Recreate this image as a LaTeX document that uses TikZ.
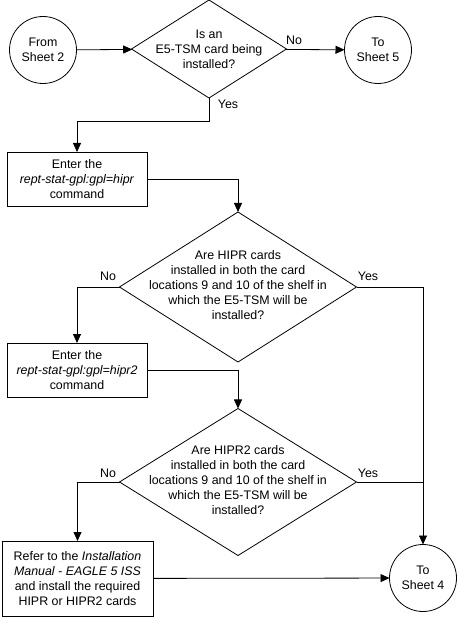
\documentclass[tikz,border=0pt]{standalone}
\usepackage{fontspec}
\setmainfont{Liberation Sans}
\usetikzlibrary{shapes.geometric,arrows.meta}

\begin{document}
\begin{tikzpicture}[x=1pt,y=-1pt,line width=0.8pt,>={Triangle[length=9pt,width=8pt]},
	every node/.style={font=\fontsize{12.4}{15}\selectfont,align=center,outer sep=0},
	sheet/.style={draw,circle,minimum size=67pt,inner sep=0},
	decision/.style={draw,diamond,inner sep=0},
	stepbox/.style={draw,rectangle,inner sep=0}]
	\useasboundingbox (0,0) rectangle (458,617);
	
	%top row
	\node[sheet] (from2) at (43,50) {From\\Sheet 2};
	\node[decision,minimum width=155pt,minimum height=98pt] (d1) at (209,49) {};
	\node (q1) at (d1) {Is an\\E5-TSM card being\\installed?};
	\node[sheet] (to5) at (378,50) {To\\Sheet 5};
	
	%hipr
	\node[stepbox,minimum width=140pt,minimum height=54pt] (box1) at (77,179) {Enter the\\\textit{rept-stat-gpl:gpl=hipr}\\command};
	\node[decision,minimum width=237pt,minimum height=150pt] (d2) at (238,287) {};
	\node (q2) at (238,285) {Are HIPR cards\\installed in both the card\\locations 9 and 10 of the shelf in\\which the E5-TSM will be\\installed?};
	
	%hipr2
	\node[stepbox,minimum width=140pt,minimum height=54pt] (box2) at (77,370) {Enter the\\\textit{rept-stat-gpl:gpl=hipr2}\\command};
	\node[decision,minimum width=237pt,minimum height=147pt] (d3) at (238,482) {};
	\node (q3) at (238,480) {Are HIPR2 cards\\installed in both the card\\locations 9 and 10 of the shelf in\\which the E5-TSM will be\\installed?};
	
	%bottom row
	\node[stepbox,minimum width=151pt,minimum height=75pt] (box3) at (77.5,578.5) {Refer to the \textit{Installation}\\\textit{Manual - EAGLE 5 ISS}\\and install the required\\HIPR or HIPR2 cards};
	\node[sheet] (to4) at (423,578) {To\\Sheet 4};
	
	%labels
	\node (no1) at (294,40) {No};
	\node (yes1) at (228,104) {Yes};
	\node (no2) at (108,276) {No};
	\node (yes2) at (368,276) {Yes};
	\node (no3) at (108,473) {No};
	\node (yes3) at (368,473) {Yes};
	
	\draw[->] (from2) -- (d1);
	\draw[->] (d1) -- (to5);
	\draw[->] (d1.south) -- ++(0,23) -| (box1);
	\draw[->] (box1) -| (d2);
	\draw[->] (d2.west) -| (box2);
	\draw[->] (d2.east) -| (to4);
	\draw[->] (box2) -| (d3);
	\draw[->] (d3.west) -| (box3);
	\draw (d3.east) -- (d3.east -| to4);
	\draw[->] (box3) -- (to4);
\end{tikzpicture}
\end{document}
